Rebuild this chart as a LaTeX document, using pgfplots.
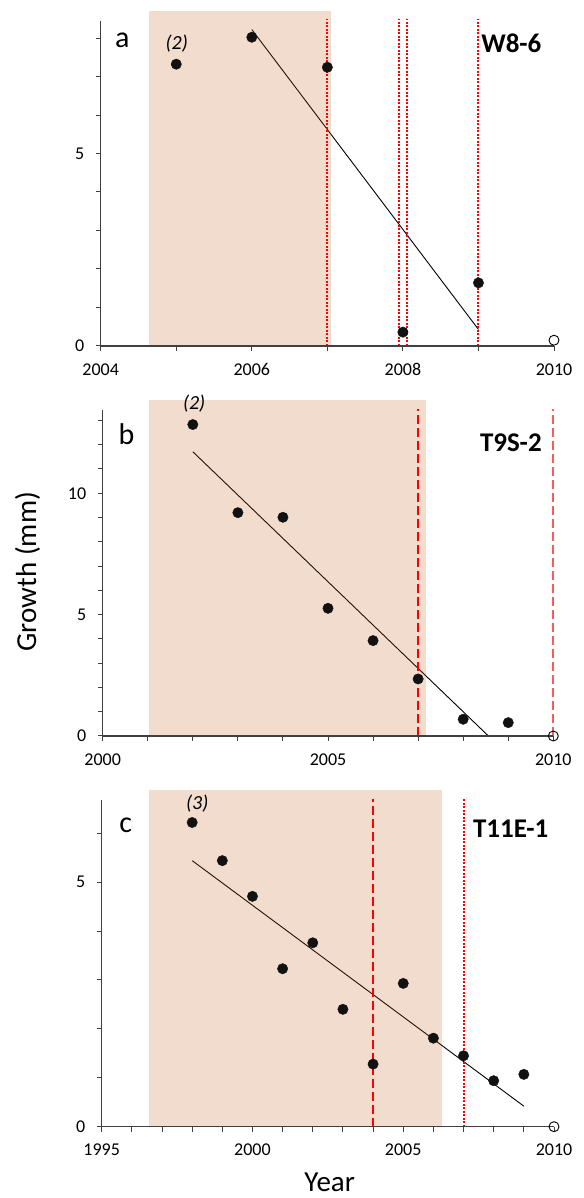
\documentclass[border=0pt]{standalone}
\usepackage{fontspec}
\setmainfont{Carlito}
\usepackage{pgfplots}
\pgfplotsset{compat=1.18}
\definecolor{axgray}{HTML}{404040}
\definecolor{shadec}{RGB}{190,80,10}
\definecolor{dotc}{HTML}{111111}
\definecolor{rline}{RGB}{255,0,0}
\definecolor{rlight}{RGB}{250,90,90}

\pgfplotsset{
  panel/.style={
    scale only axis, axis lines=left, anchor=south west,
    axis line style={draw=axgray, line width=1.3pt, -},
    tick style={draw=axgray, line width=1pt},
    tick align=outside, major tick length=5pt, minor tick length=5pt,
    ticklabel style={font=\fontsize{18}{18}\selectfont, text=black},
    xticklabel style={yshift=-9pt},
    yticklabel style={xshift=-8pt},
    /pgf/number format/1000 sep={},
    /pgf/number format/assume math mode=true,
    clip=false, axis on top, ymin=0,
  },
  pts/.style={only marks, mark=*, mark size=5.2pt, draw=dotc, fill=dotc},
  open/.style={only marks, mark=o, mark size=5pt, draw=black, line width=0.9pt},
  trend/.style={draw=black, line width=0.9pt, no marks},
  bgshade/.style={draw=none, fill=shadec, fill opacity=0.2, no marks},
  rdot/.style={draw=rline, line width=2pt, dash pattern=on 2pt off 1.5pt, no marks},
  rdash/.style={draw=rline, line width=2pt, dash pattern=on 9pt off 4pt, no marks},
}
\tikzset{
  panlab/.style={font=\fontsize{30}{30}\selectfont, anchor=base},
  idlab/.style={font=\fontsize{27}{27}\selectfont\bfseries, anchor=base east},
  nlab/.style={font=\fontsize{20}{20}\selectfont\itshape, anchor=base},
}

\begin{document}
\begin{tikzpicture}[x=1pt,y=1pt]
\useasboundingbox (0,0) rectangle (583,1198);

% panel a
\begin{axis}[panel, at={(100.7pt,852pt)}, width=453.3pt, height=325.3pt,
  xmin=2004, xmax=2010, ymax=8.45,
  xtick={2004,2006,2008,2010}, minor xtick={2005,2007,2009},
  ytick={0,5}, minor ytick={1,2,3,4,6,7,8}]
\addplot[pts] coordinates {(2005,7.32) (2006,8.02) (2007,7.24) (2008,0.36) (2009,1.64)};
\addplot[open] coordinates {(2010,0.15)};
\addplot[trend] coordinates {(2006,8.22) (2009,0.43)};
\addplot[bgshade] coordinates {(2004.64,0) (2004.64,8.7) (2007.05,8.7) (2007.05,0)} -- cycle;
\addplot[rdot] coordinates {(2007,0) (2007,8.49)};
\addplot[rdot] coordinates {(2007.95,0) (2007.95,8.49)};
\addplot[rdot] coordinates {(2008.06,0) (2008.06,8.49)};
\addplot[rdot] coordinates {(2009,0) (2009,8.49)};
\node[panlab] at (axis cs:2004.286,7.76) {a};
\node[nlab] at (axis cs:2005.006,7.69) {(2)};
\node[idlab] at (axis cs:2009.88,7.62) {W8-6};
\end{axis}

% panel b
\begin{axis}[panel, at={(102.7pt,462pt)}, width=450.6pt, height=326pt,
  xmin=2000, xmax=2010, ymax=13.43,
  xtick={2000,2005,2010}, minor xtick={2001,2002,2003,2004,2006,2007,2008,2009},
  ytick={0,5,10}, minor ytick={1,2,3,4,6,7,8,9,11,12,13}]
\addplot[pts] coordinates {(2002,12.83) (2003,9.2) (2004,9.01) (2005,5.26) (2006,3.93) (2007,2.35) (2008,0.69) (2009,0.55)};
\addplot[open] coordinates {(2010,0)};
\addplot[trend] coordinates {(2002,11.71) (2008.56,0)};
\addplot[bgshade] coordinates {(2001.03,0) (2001.03,13.84) (2007.17,13.84) (2007.17,0)} -- cycle;
\addplot[rdash] coordinates {(2007,0) (2007,13.47)};
\addplot[rdash, draw=rlight, line width=1.7pt] coordinates {(2010,0) (2010,13.47)};
\node[panlab] at (axis cs:2000.53,11.99) {b};
\node[nlab] at (axis cs:2002.03,13.43) {(2)};
\node[idlab] at (axis cs:2009.82,11.74) {T9S-2};
\end{axis}

% panel c
\begin{axis}[panel, at={(101.7pt,71.3pt)}, width=452.3pt, height=326.7pt,
  xmin=1995, xmax=2010, ymax=6.68,
  xtick={1995,2000,2005,2010},
  minor xtick={1996,1997,1998,1999,2001,2002,2003,2004,2006,2007,2008,2009},
  ytick={0,5}, minor ytick={1,2,3,4,6}]
\addplot[pts] coordinates {(1998,6.22) (1999,5.44) (2000,4.71) (2001,3.23) (2002,3.76) (2003,2.40) (2004,1.28) (2005,2.93) (2006,1.81) (2007,1.45) (2008,0.94) (2009,1.07)};
\addplot[open] coordinates {(2010,0)};
\addplot[trend] coordinates {(1998,5.44) (2009,0.42)};
\addplot[bgshade] coordinates {(1996.57,0) (1996.57,6.89) (2006.28,6.89) (2006.28,0)} -- cycle;
\addplot[rdash] coordinates {(2004,0) (2004,6.7)};
\addplot[rdot] coordinates {(2007,0) (2007,6.7)};
\node[panlab] at (axis cs:1995.80,6.02) {c};
\node[nlab] at (axis cs:1998.17,6.49) {(3)};
\node[idlab] at (axis cs:2009.93,5.92) {T11E-1};
\end{axis}

\node[rotate=90, font=\fontsize{29}{29}\selectfont] at (27.5,626.3) {Growth (mm)};
\node[anchor=base, font=\fontsize{29}{29}\selectfont, inner sep=0pt] at (329.7,6) {Year};
\end{tikzpicture}
\end{document}
